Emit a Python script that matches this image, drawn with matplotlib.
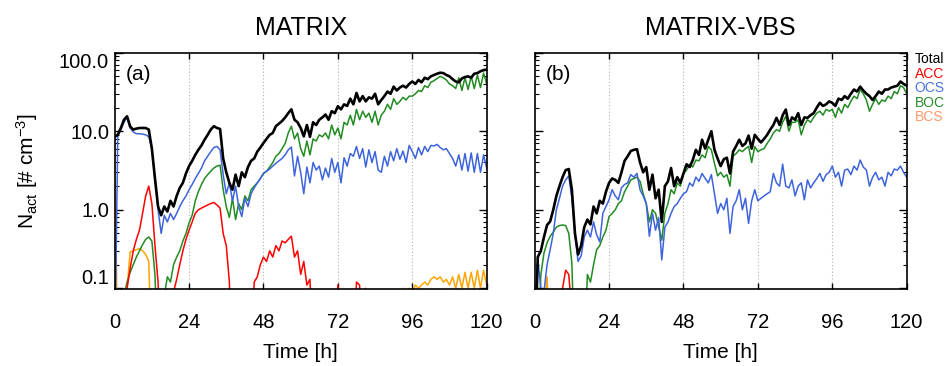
import numpy as np
import matplotlib
matplotlib.use("Agg")
import matplotlib.pyplot as plt
from matplotlib.ticker import FixedLocator, LogLocator, NullFormatter

plt.rcParams['font.family'] = ['Liberation Sans', 'DejaVu Sans']
plt.rcParams['mathtext.fontset'] = 'custom'
plt.rcParams['mathtext.rm'] = 'Liberation Sans'
plt.rcParams['mathtext.it'] = 'Liberation Sans:italic'

# hourly output, 0..120 h
hours = np.arange(0, 121)

# ---- MATRIX (a) ----
total_a = [8.5, 9.0, 11, 14, 15.5, 11.5, 10.5, 10.8, 11, 11, 11, 10.5, 6.0, 2.5, 1.1, 0.85,
           1.1, 0.95, 1.3, 1.1, 1.5, 1.9, 2.2, 2.9, 3.6, 4.2, 5.0, 5.8, 6.6, 7.8, 9.0,
           10.5, 11.6, 11.0, 10.7, 4.5, 3.0, 2.2, 1.8, 2.8, 2.0, 3.0, 2.6, 3.5, 4.2, 4.5,
           5.5, 6.2, 7.1, 8.0, 9.0, 9.5, 11.6, 12.5, 13.5, 15, 17, 19, 14, 13, 11,
           8.6, 12, 8.5, 13, 12, 14, 15, 16.3, 14, 18, 17, 20.8, 19, 22, 21, 26,
           22, 30.7, 24, 28, 24, 27, 26, 30, 22, 25, 28, 32, 30, 37, 33, 36,
           38, 36, 40, 43, 40, 45, 42, 48, 46, 50, 52, 54, 55.6, 55, 52, 50,
           46, 43, 42, 47, 49, 50, 48, 54, 55, 58, 60, 61]
ocs_a = [0.01, 8.7, 10.5, 13, 15, 11, 9.8, 9.3, 9.3, 9.2, 9.0, 8.5, 6.0, 2.5, 1.0, 0.5,
         0.85, 0.7, 0.9, 0.75, 0.9, 1.1, 1.3, 1.5, 1.8, 2.1, 2.5, 2.9, 3.4, 4.2, 4.8,
         5.5, 6.2, 6.4, 5.8, 2.8, 1.6, 2.2, 1.3, 2.0, 1.1, 0.82, 1.4, 1.1, 1.6, 1.9,
         2.2, 2.5, 2.9, 3.1, 3.3, 3.6, 3.9, 4.2, 4.5, 5.0, 5.8, 6.3, 2.7, 4.8, 3.0,
         1.6, 3.5, 2.2, 4.0, 3.2, 3.6, 2.4, 3.4, 2.6, 4.5, 3.0, 4.0, 2.2, 4.6, 3.6,
         5.2, 4.8, 6.4, 4.5, 6.0, 3.5, 5.8, 4.0, 5.5, 3.2, 3.0, 4.8, 3.6, 5.5, 4.2,
         6.0, 4.4, 5.6, 4.0, 6.6, 5.5, 4.5, 6.2, 5.0, 6.4, 5.5, 6.6, 6.5, 6.8, 6.2,
         5.8, 6.0, 5.2, 4.5, 3.6, 5.0, 3.2, 5.2, 3.1, 5.3, 3.0, 5.2, 3.0, 5.0, 3.4]
boc_a = [0.01, 0.01, 0.01, 0.08, 0.12, 0.16, 0.2, 0.25, 0.3, 0.36, 0.42, 0.45, 0.4, 0.15,
         0.01, 0.01, 0.08, 0.14, 0.12, 0.2, 0.25, 0.3, 0.4, 0.5, 0.68, 0.85, 1.3, 1.7,
         2.1, 2.5, 2.8, 3.1, 3.4, 3.6, 3.7, 1.8, 1.1, 0.8, 1.4, 0.75, 1.2, 1.0, 1.5,
         1.3, 1.8, 2.0, 2.2, 2.5, 2.9, 3.1, 3.5, 4.0, 4.8, 5.2, 6.0, 7.0, 9.5, 11.6,
         8.0, 9.5, 6.0, 4.8, 7.5, 5.0, 8.0, 7.5, 9, 8.5, 9.5, 8, 12, 9, 11, 8, 13,
         12, 16, 12, 19, 14, 18, 15, 17, 13, 18, 12, 16, 18, 22, 19, 26, 22, 24,
         27, 25, 28, 28, 30, 33, 32, 38, 36, 42, 44, 47, 50, 48, 45, 40, 38, 35,
         48, 33, 48, 34, 50, 35, 52, 36, 55, 40]
acc_a = [0.01, 0.01, 0.01, 0.01, 0.1, 0.18, 0.3, 0.42, 0.55, 0.9, 1.5, 2.0, 1.2, 0.35,
         0.12, 0.01, 0.01, 0.01, 0.01, 0.09, 0.13, 0.2, 0.3, 0.42, 0.55, 0.7, 0.9, 1.0,
         1.05, 1.1, 1.15, 1.2, 1.24, 1.15, 1.05, 0.5, 0.35, 0.12, 0.01, 0.01, 0.01,
         0.01, 0.01, 0.01, 0.01, 0.12, 0.14, 0.2, 0.25, 0.22, 0.3, 0.25, 0.35, 0.3,
         0.4, 0.38, 0.42, 0.46, 0.25, 0.3, 0.15, 0.22, 0.11, 0.13, 0.01, 0.01, 0.01,
         0.01, 0.01, 0.01, 0.01, 0.01, 0.11, 0.01, 0.01, 0.01, 0.01, 0.01, 0.12, 0.11,
         0.01, 0.1, 0.01] + [0.01] * 38
bcs_a = [8.5, 0.01, 0.01, 0.01, 0.1, 0.29, 0.3, 0.31, 0.32, 0.3, 0.27, 0.22, 0.01] + \
        [0.01] * 80 + \
        [0.1, 0.09, 0.1, 0.09, 0.11, 0.1, 0.11, 0.12, 0.11, 0.13, 0.14, 0.13, 0.14,
         0.12, 0.13, 0.11, 0.14, 0.1, 0.15, 0.1, 0.16, 0.1, 0.16, 0.1, 0.17, 0.1,
         0.17, 0.11]

# ---- MATRIX-VBS (b) ----
total_b = [0.01, 0.25, 0.3, 0.45, 0.64, 0.71, 1.0, 1.5, 2.0, 2.6, 3.2, 3.3, 1.8, 0.5,
           0.27, 0.35, 0.6, 0.75, 0.65, 1.1, 0.9, 1.3, 1.2, 1.7, 2.2, 2.5, 2.4, 2.2,
           3.0, 4.2, 4.8, 5.6, 5.8, 5.9, 4.0, 3.0, 3.5, 1.8, 2.8, 1.4, 1.8, 0.7, 2.0,
           2.3, 3.4, 2.0, 2.6, 2.2, 2.9, 3.8, 3.5, 4.3, 5.8, 5.0, 7.8, 6.0, 7.8, 10,
           5.8, 4.5, 3.6, 4.4, 4.6, 2.9, 5.5, 6.5, 7.8, 6.5, 7.0, 8.8, 6.0, 9.0, 8.0,
           7.2, 8.0, 9.0, 10.5, 12, 14.8, 12, 16, 18.9, 12, 15, 14, 17, 12, 15, 14.8,
           16, 17, 20, 23, 21, 22, 24, 23, 21, 26, 25, 28, 26, 30, 34, 32, 37, 33,
           30, 28, 25, 28, 32, 30, 34, 34, 36, 37, 38, 43, 40, 38]
ocs_b = [0.05, 0.24, 0.1, 0.09, 0.2, 0.31, 0.5, 1.0, 1.4, 2.0, 2.4, 2.7, 1.4, 0.5, 0.22,
         0.26, 0.45, 0.55, 0.45, 0.7, 0.48, 0.39, 0.9, 1.1, 1.34, 1.8, 1.5, 1.34, 1.9,
         2.1, 2.2, 2.8, 2.6, 2.9, 1.8, 1.5, 1.2, 0.46, 0.9, 0.55, 0.8, 0.23, 0.6, 0.7,
         0.9, 1.1, 1.2, 1.4, 1.6, 1.7, 2.2, 2.0, 2.6, 2.3, 2.9, 2.5, 2.2, 2.8, 1.6,
         0.9, 1.2, 1.0, 1.4, 0.5, 1.1, 1.3, 1.8, 1.0, 1.4, 0.67, 1.3, 1.8, 1.3, 1.4,
         1.5, 1.6, 1.7, 2.9, 2.2, 2.0, 3.8, 2.0, 1.9, 2.4, 1.5, 2.0, 2.2, 1.34, 2.4,
         1.9, 2.2, 2.5, 2.9, 2.3, 2.8, 3.0, 3.6, 2.6, 3.0, 2.0, 3.2, 3.3, 2.8, 3.6,
         3.2, 4.3, 3.5, 3.2, 2.0, 2.6, 3.0, 2.4, 2.6, 2.0, 3.0, 2.7, 3.3, 3.2, 3.6,
         3.0, 2.6]
boc_b = [0.01, 0.01, 0.15, 0.28, 0.38, 0.46, 0.52, 0.6, 0.63, 0.64, 0.63, 0.5, 0.21,
         0.01, 0.01, 0.01, 0.01, 0.15, 0.12, 0.2, 0.31, 0.35, 0.45, 0.55, 0.82, 0.9,
         1.0, 1.2, 1.3, 1.7, 2.0, 2.4, 2.5, 2.6, 2.3, 1.6, 1.2, 0.7, 1.0, 0.9, 0.6,
         0.41, 0.9, 1.2, 1.8, 1.6, 2.2, 2.0, 2.9, 3.2, 3.8, 3.5, 4.3, 4.2, 5.0, 4.6,
         6.4, 5.8, 3.9, 2.7, 3.0, 2.6, 2.8, 2.0, 4.8, 5.2, 5.8, 5.5, 6.0, 6.4, 4.0,
         6.4, 5.5, 5.8, 6.0, 7.0, 8.0, 9.5, 10.5, 10, 13, 15.5, 10, 13, 13, 14, 9,
         12, 14, 13, 15, 17, 18, 16, 19, 18, 19, 15, 20, 17, 22, 20, 24, 28, 26, 34,
         30, 25, 18, 22, 26, 22, 25, 24, 28, 26, 32, 30, 38, 36, 30]
acc_b = [0.01] * 9 + [0.1, 0.17, 0.15, 0.05] + [0.01] * 108
bcs_b = [0.12, 0.01, 0.01, 0.05, 0.14, 0.01] + [0.01] * 115

names = ['Total', 'ACC', 'OCS', 'BOC', 'BCS']
name_colors = ['black', '#ff0000', '#4a74e0', '#2a8c2a', '#ff9a6a']
line_colors = ['black', '#ff0000', '#3d64dd', '#228b22', '#ffa500']

fig = plt.figure(figsize=(9.5, 3.66), dpi=100)
ax_a = fig.add_axes([0.1207, 0.2104, 0.3916, 0.6456])
ax_b = fig.add_axes([0.5628, 0.2104, 0.3916, 0.6456])

panels = [(ax_a, 'MATRIX', '(a)', [total_a, acc_a, ocs_a, boc_a, bcs_a]),
          (ax_b, 'MATRIX-VBS', '(b)', [total_b, acc_b, ocs_b, boc_b, bcs_b])]

for ax, title, tag, series in panels:
    # species first, total on top
    for vals, col in zip(series[1:][::-1], line_colors[1:][::-1]):
        ax.plot(hours, vals, color=col, lw=1.1)
    ax.plot(hours, series[0], color='black', lw=1.9)
    ax.set_yscale('log')
    ax.set_ylim(0.098, 100)
    ax.set_xlim(0, 120)
    ax.set_xticks([0, 24, 48, 72, 96, 120])
    for xv in [24, 48, 72, 96]:
        ax.axvline(xv, color='#b0b0b0', lw=0.8, ls=(0, (1, 2)), zorder=0)
    ax.yaxis.set_major_locator(FixedLocator([0.1, 1, 10, 100]))
    ax.yaxis.set_minor_locator(LogLocator(base=10, subs=np.arange(2, 10)))
    ax.yaxis.set_minor_formatter(NullFormatter())
    ax.tick_params(which='major', direction='in', top=True, right=True,
                   length=6, width=1.0, labelsize=14.5)
    ax.tick_params(which='minor', direction='in', right=True, length=3, width=0.8)
    ax.tick_params(axis='x', which='major', length=4, pad=17)
    ax.tick_params(axis='y', which='major', pad=4)
    for sp in ax.spines.values():
        sp.set_linewidth(1.2)
    ax.set_title(title, fontsize=18, pad=13)
    ax.set_xlabel('Time [h]', fontsize=15, labelpad=8)
    ax.text(0.03, 0.95, tag, transform=ax.transAxes, fontsize=15, va='top', ha='left')

ax_a.set_yticklabels(['0.1', '1.0', '10.0', '100.0'])
ylabs = ax_a.get_yticklabels()
ylabs[0].set_va('bottom')
ylabs[-1].set_va('top')
ax_a.set_ylabel(r'N$_{\rm act}$ [# cm$^{-3}$]', fontsize=15, labelpad=14)
ax_b.set_yticklabels([])

for k, (nm, col) in enumerate(zip(names, name_colors)):
    fig.text(0.963, 0.839 - k * 0.04, nm, color=col, fontsize=10, ha='left', va='center')

fig.savefig('out.png', dpi=100)
